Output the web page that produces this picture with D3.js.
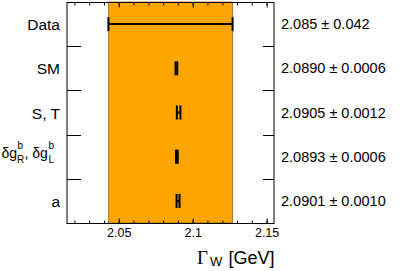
<!DOCTYPE html>
<html>
<head>
<meta charset="utf-8">
<script src="https://cdn.jsdelivr.net/npm/d3@7"></script>
<style>
  html, body { margin: 0; padding: 0; background: #fff; }
  svg { display: block; font-family: "Liberation Sans", Arial, sans-serif; }
</style>
</head>
<body>
<svg id="chart" width="407" height="271"></svg>
<script>
'use strict';

// rows, top to bottom
const rowNames = ['Data', 'SM', 'S, T', 'dg', 'a'];
const centralValues = [2.085, 2.0890, 2.0905, 2.0893, 2.0901];
const errorValues = [0.042, 0.0006, 0.0012, 0.0006, 0.0010];
const valueLabels = ['2.085 \u00b1 0.042', '2.0890 \u00b1 0.0006', '2.0905 \u00b1 0.0012',
  '2.0893 \u00b1 0.0006', '2.0901 \u00b1 0.0010'];
const majorTicks = [2.05, 2.1, 2.15];

const svg = d3.select('#chart');
const pLeft = 67, pRight = 274, pTop = 2, pBottom = 223;

const x = d3.scaleLinear().domain([2.015, 2.155]).range([pLeft, pRight]);
const y = d3.scaleBand().domain(rowNames).range([pTop, pBottom]);
const cy = n => y(n) + y.bandwidth() / 2;

// orange band = measurement
svg.append('rect')
  .attr('x', x(centralValues[0] - errorValues[0]))
  .attr('y', pTop)
  .attr('width', x(centralValues[0] + errorValues[0]) - x(centralValues[0] - errorValues[0]))
  .attr('height', pBottom - pTop)
  .attr('fill', '#ffa500')
  .attr('stroke', '#9a6a20')
  .attr('stroke-width', 0.8);

// frame
svg.append('rect')
  .attr('x', pLeft).attr('y', pTop + 0.5)
  .attr('width', pRight - pLeft).attr('height', pBottom - pTop)
  .attr('fill', 'none').attr('stroke', '#000').attr('stroke-width', 1);

// x ticks (inward, top and bottom)
const minorTicks = x.ticks(14);

const bottomAxis = svg.append('g').attr('transform', `translate(0,${pBottom + 0.5})`)
  .call(d3.axisBottom(x).tickValues(minorTicks).tickSize(-3).tickFormat(''));
const bottomMajor = svg.append('g').attr('transform', `translate(0,${pBottom + 0.5})`)
  .call(d3.axisBottom(x).tickValues(majorTicks).tickSize(-5).tickPadding(5)
    .tickFormat(d3.format('~g')));
const topAxis = svg.append('g').attr('transform', `translate(0,${pTop + 0.5})`)
  .call(d3.axisTop(x).tickValues(minorTicks).tickSize(-3).tickFormat(''));
const topMajor = svg.append('g').attr('transform', `translate(0,${pTop + 0.5})`)
  .call(d3.axisTop(x).tickValues(majorTicks).tickSize(-5).tickFormat(''));

[bottomAxis, bottomMajor, topAxis, topMajor].forEach(g => {
  g.select('.domain').remove();
  g.selectAll('line').attr('stroke', '#000');
});
bottomMajor.selectAll('text')
  .attr('font-family', '"Liberation Sans", Arial, sans-serif')
  .attr('font-size', 12.5).attr('fill', '#000');

// row separator ticks on left and right
const seps = rowNames.slice(1).map(n => Math.round(y(n)) + 0.5);
svg.selectAll('line.sepL').data(seps).join('line')
  .attr('x1', pLeft).attr('x2', pLeft + 14).attr('y1', d => d).attr('y2', d => d)
  .attr('stroke', '#000');
svg.selectAll('line.sepR').data(seps).join('line')
  .attr('x1', pRight - 11).attr('x2', pRight).attr('y1', d => d).attr('y2', d => d)
  .attr('stroke', '#000');

// error bars
const rows = rowNames.map((n, i) => ({ n, v: centralValues[i], e: errorValues[i], t: valueLabels[i] }));
const bars = svg.selectAll('g.bar').data(rows).join('g');
bars.append('line')
  .attr('x1', d => x(d.v - d.e)).attr('x2', d => x(d.v + d.e))
  .attr('y1', d => cy(d.n)).attr('y2', d => cy(d.n))
  .attr('stroke', '#000').attr('stroke-width', 2);
bars.selectAll('line.cap').data(d => [d.v - d.e, d.v + d.e].map(p => ({ p, n: d.n }))).join('line')
  .attr('x1', d => x(d.p)).attr('x2', d => x(d.p))
  .attr('y1', d => cy(d.n) - 7).attr('y2', d => cy(d.n) + 7)
  .attr('stroke', '#000').attr('stroke-width', 2);

// value labels on the right
svg.selectAll('text.val').data(rows).join('text')
  .attr('x', 281).attr('y', d => cy(d.n) + 5)
  .attr('font-size', 14.5).attr('fill', '#000')
  .text(d => d.t);

// row labels on the left
svg.selectAll('text.lab').data(rows.filter(d => d.n !== 'dg')).join('text')
  .attr('x', 60).attr('y', d => cy(d.n) + 6)
  .attr('text-anchor', 'end').attr('font-size', 15.5).attr('fill', '#000')
  .text(d => d.n);

// δg_R^b, δg_L^b
const dgY = cy('dg');
const dg = svg.append('text').attr('y', dgY + 1).attr('font-size', 14).attr('fill', '#000');
dg.append('tspan').attr('x', 1.5).text('\u03b4g');
dg.append('tspan').attr('x', 17.5).attr('y', dgY - 8).attr('font-size', 10).text('b');
dg.append('tspan').attr('x', 17).attr('y', dgY + 6).attr('font-size', 10).text('R');
dg.append('tspan').attr('x', 24.5).attr('y', dgY + 1).text(', \u03b4g');
dg.append('tspan').attr('x', 48.5).attr('y', dgY - 8).attr('font-size', 10).text('b');
dg.append('tspan').attr('x', 48.5).attr('y', dgY + 6).attr('font-size', 10).text('L');

// axis title  Γ_W [GeV]
const title = svg.append('text').attr('y', 264).attr('fill', '#000');
title.append('tspan').attr('x', 197).attr('font-family', '"Liberation Serif", "Times New Roman", serif')
  .attr('font-size', 19).text('\u0393');
title.append('tspan').attr('x', 210).attr('y', 266).attr('font-size', 13).text('W');
title.append('tspan').attr('x', 228.5).attr('y', 264).attr('font-size', 18).text('[GeV]');
</script>
</body>
</html>
